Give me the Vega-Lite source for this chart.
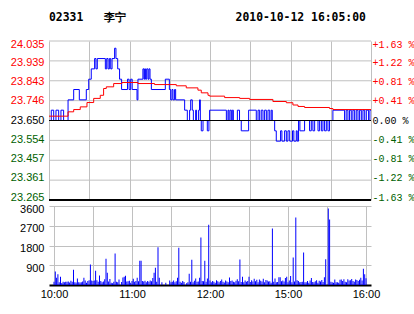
{
  "$schema": "https://vega.github.io/schema/vega-lite/v6.json",
  "background": "white",
  "padding": {"left": 5, "top": 11, "right": 0, "bottom": 0},
  "config": {
    "view": {"stroke": null},
    "axis": {"labelFont": "Liberation Sans", "labelFontSize": 11, "labelColor": "#000000", "ticks": false, "domain": false, "gridColor": "#c0c0c0", "gridOpacity": 1, "gridWidth": 1, "labelFlush": false, "labelOverlap": false}
  },
  "datasets": {
    "grid": [
      {"t":0,"lv":23.36125},{"t":240,"lv":23.36125},{"t":0,"lv":23.4575},{"t":240,"lv":23.4575},{"t":0,"lv":23.55375},{"t":240,"lv":23.55375},{"t":0,"lv":23.74625},{"t":240,"lv":23.74625},{"t":0,"lv":23.8425},{"t":240,"lv":23.8425},{"t":0,"lv":23.93875},{"t":240,"lv":23.93875},{"t":0,"lv":24.035},{"t":240,"lv":24.035}
    ],
    "base": [{"t":0,"b":23.265},{"t":240,"b":23.265}],
    "prev": [{"t":0,"c":23.65},{"t":240,"c":23.65}],
    "price": [
      {"t":0,"p":23.65},{"t":1.7,"p":23.70},{"t":3.5,"p":23.65},{"t":5.2,"p":23.70},{"t":7.2,"p":23.65},{"t":8.9,"p":23.70},{"t":10.9,"p":23.65},{"t":14.2,"p":23.75},{"t":18.4,"p":23.80},{"t":22.6,"p":23.75},{"t":27.8,"p":23.80},{"t":29.6,"p":23.85},{"t":31.5,"p":23.90},{"t":34,"p":23.95},{"t":35,"p":23.90},{"t":36,"p":23.95},{"t":42,"p":23.90},{"t":43,"p":23.95},{"t":44,"p":23.90},{"t":45,"p":23.95},{"t":46,"p":23.90},{"t":47,"p":23.95},{"t":48.9,"p":24.00},{"t":49.9,"p":23.95},{"t":51.2,"p":23.90},{"t":52.6,"p":23.85},{"t":54.1,"p":23.80},{"t":58.5,"p":23.85},{"t":59.7,"p":23.80},{"t":60.9,"p":23.85},{"t":62,"p":23.80},{"t":65.6,"p":23.75},{"t":66.3,"p":23.85},{"t":70,"p":23.90},{"t":70.8,"p":23.85},{"t":71.3,"p":23.90},{"t":72,"p":23.85},{"t":72.8,"p":23.90},{"t":73.8,"p":23.85},{"t":74.5,"p":23.90},{"t":75.3,"p":23.85},{"t":76.3,"p":23.80},{"t":86.7,"p":23.85},{"t":89.7,"p":23.80},{"t":90.7,"p":23.75},{"t":91.7,"p":23.80},{"t":92.4,"p":23.75},{"t":93.6,"p":23.80},{"t":94.4,"p":23.75},{"t":101.1,"p":23.70},{"t":103.1,"p":23.65},{"t":104.8,"p":23.70},{"t":105.6,"p":23.75},{"t":106.8,"p":23.70},{"t":107.6,"p":23.65},{"t":109.3,"p":23.70},{"t":110,"p":23.65},{"t":111.5,"p":23.70},{"t":112.2,"p":23.75},{"t":112.8,"p":23.65},{"t":113.5,"p":23.60},{"t":114.8,"p":23.65},{"t":118,"p":23.60},{"t":119.2,"p":23.65},{"t":119.7,"p":23.70},{"t":132.2,"p":23.65},{"t":133.4,"p":23.70},{"t":134.1,"p":23.65},{"t":134.9,"p":23.70},{"t":135.9,"p":23.65},{"t":136.6,"p":23.70},{"t":137.4,"p":23.65},{"t":140.4,"p":23.70},{"t":142,"p":23.65},{"t":143.3,"p":23.60},{"t":148.8,"p":23.70},{"t":154.5,"p":23.65},{"t":155.8,"p":23.70},{"t":157,"p":23.65},{"t":158.2,"p":23.70},{"t":159.5,"p":23.65},{"t":160.7,"p":23.70},{"t":162,"p":23.65},{"t":163.2,"p":23.70},{"t":164.5,"p":23.65},{"t":165.6,"p":23.70},{"t":166.4,"p":23.65},{"t":168.2,"p":23.60},{"t":169.4,"p":23.55},{"t":172.6,"p":23.60},{"t":173.6,"p":23.55},{"t":175.6,"p":23.60},{"t":176.9,"p":23.55},{"t":178.1,"p":23.60},{"t":179.4,"p":23.55},{"t":181.5,"p":23.60},{"t":182.5,"p":23.55},{"t":184.3,"p":23.60},{"t":185,"p":23.55},{"t":186,"p":23.65},{"t":187,"p":23.60},{"t":190.5,"p":23.65},{"t":194.2,"p":23.60},{"t":195.5,"p":23.65},{"t":196.7,"p":23.60},{"t":198,"p":23.65},{"t":200.5,"p":23.60},{"t":201.7,"p":23.65},{"t":203,"p":23.60},{"t":204.2,"p":23.65},{"t":205.4,"p":23.60},{"t":206.7,"p":23.65},{"t":207.9,"p":23.60},{"t":209.1,"p":23.65},{"t":211.6,"p":23.70},{"t":220.3,"p":23.65},{"t":221.5,"p":23.70},{"t":222.8,"p":23.65},{"t":224,"p":23.70},{"t":225.3,"p":23.65},{"t":226.5,"p":23.70},{"t":227.8,"p":23.65},{"t":229,"p":23.70},{"t":230.3,"p":23.65},{"t":231.5,"p":23.70},{"t":232.8,"p":23.65},{"t":234,"p":23.70},{"t":235.3,"p":23.65},{"t":236.5,"p":23.70},{"t":238.2,"p":23.65},{"t":239.2,"p":23.70},{"t":240,"p":23.70}
    ],
    "avg": [
      {"t":0,"a":23.671},{"t":14.2,"a":23.692},{"t":18.4,"a":23.703},{"t":23.3,"a":23.716},{"t":28.3,"a":23.737},{"t":33.3,"a":23.757},{"t":38.2,"a":23.772},{"t":40.7,"a":23.805},{"t":42.7,"a":23.813},{"t":48.2,"a":23.829},{"t":54.4,"a":23.834},{"t":66.3,"a":23.829},{"t":78.7,"a":23.824},{"t":94.9,"a":23.818},{"t":102.3,"a":23.808},{"t":111,"a":23.797},{"t":113.5,"a":23.784},{"t":118.5,"a":23.772},{"t":119.7,"a":23.768},{"t":130.9,"a":23.761},{"t":142.1,"a":23.757},{"t":149.5,"a":23.752},{"t":166.9,"a":23.742},{"t":176.9,"a":23.736},{"t":181.8,"a":23.725},{"t":185.6,"a":23.718},{"t":190.5,"a":23.713},{"t":209.1,"a":23.708},{"t":211.6,"a":23.703},{"t":240,"a":23.703}
    ],
    "vol": [
      {"t":0,"v":150},{"t":1,"v":610},{"t":2,"v":330},{"t":3,"v":490},{"t":4,"v":120},{"t":5,"v":380},{"t":6,"v":90},{"t":7,"v":150},{"t":8,"v":120},{"t":9,"v":150},{"t":10,"v":150},{"t":11,"v":160},{"t":12,"v":110},{"t":13,"v":190},{"t":14,"v":150},{"t":15,"v":700},{"t":16,"v":130},{"t":17,"v":110},{"t":18,"v":300},{"t":19,"v":120},{"t":20,"v":110},{"t":21,"v":120},{"t":22,"v":160},{"t":23,"v":330},{"t":24,"v":200},{"t":25,"v":100},{"t":26,"v":180},{"t":27,"v":220},{"t":28,"v":930},{"t":29,"v":210},{"t":30,"v":180},{"t":31,"v":200},{"t":32,"v":650},{"t":33,"v":220},{"t":34,"v":150},{"t":35,"v":430},{"t":36,"v":180},{"t":37,"v":130},{"t":38,"v":160},{"t":39,"v":260},{"t":40,"v":1200},{"t":41,"v":560},{"t":42,"v":160},{"t":43,"v":270},{"t":44,"v":100},{"t":45,"v":80},{"t":46,"v":150},{"t":47,"v":1430},{"t":48,"v":150},{"t":49,"v":120},{"t":50,"v":250},{"t":51,"v":0},{"t":52,"v":140},{"t":53,"v":340},{"t":54,"v":380},{"t":55,"v":420},{"t":56,"v":160},{"t":57,"v":170},{"t":58,"v":190},{"t":59,"v":100},{"t":60,"v":180},{"t":61,"v":280},{"t":62,"v":150},{"t":63,"v":180},{"t":64,"v":330},{"t":65,"v":170},{"t":66,"v":1110},{"t":67,"v":1110},{"t":68,"v":180},{"t":69,"v":160},{"t":70,"v":190},{"t":71,"v":120},{"t":72,"v":180},{"t":73,"v":150},{"t":74,"v":200},{"t":75,"v":170},{"t":76,"v":320},{"t":77,"v":560},{"t":78,"v":790},{"t":79,"v":150},{"t":80,"v":1720},{"t":81,"v":330},{"t":82,"v":0},{"t":83,"v":120},{"t":84,"v":0},{"t":85,"v":0},{"t":86,"v":100},{"t":87,"v":0},{"t":88,"v":0},{"t":89,"v":200},{"t":90,"v":120},{"t":91,"v":150},{"t":92,"v":200},{"t":93,"v":120},{"t":94,"v":170},{"t":95,"v":330},{"t":96,"v":1700},{"t":97,"v":150},{"t":98,"v":100},{"t":99,"v":180},{"t":100,"v":140},{"t":101,"v":0},{"t":102,"v":80},{"t":103,"v":120},{"t":104,"v":517},{"t":105,"v":150},{"t":106,"v":1155},{"t":107,"v":120},{"t":108,"v":190},{"t":109,"v":300},{"t":110,"v":150},{"t":111,"v":160},{"t":112,"v":330},{"t":113,"v":2160},{"t":114,"v":180},{"t":115,"v":170},{"t":116,"v":1110},{"t":117,"v":150},{"t":118,"v":300},{"t":119,"v":2742},{"t":120,"v":200},{"t":121,"v":130},{"t":122,"v":180},{"t":123,"v":150},{"t":124,"v":100},{"t":125,"v":220},{"t":126,"v":170},{"t":127,"v":120},{"t":128,"v":180},{"t":129,"v":250},{"t":130,"v":150},{"t":131,"v":110},{"t":132,"v":200},{"t":133,"v":160},{"t":134,"v":130},{"t":135,"v":340},{"t":136,"v":180},{"t":137,"v":210},{"t":138,"v":150},{"t":139,"v":120},{"t":140,"v":190},{"t":141,"v":260},{"t":142,"v":170},{"t":143,"v":1157},{"t":144,"v":140},{"t":145,"v":380},{"t":146,"v":120},{"t":147,"v":200},{"t":148,"v":150},{"t":149,"v":180},{"t":150,"v":380},{"t":151,"v":140},{"t":152,"v":220},{"t":153,"v":160},{"t":154,"v":280},{"t":155,"v":170},{"t":156,"v":240},{"t":157,"v":130},{"t":158,"v":250},{"t":159,"v":190},{"t":160,"v":160},{"t":161,"v":280},{"t":162,"v":120},{"t":163,"v":230},{"t":164,"v":200},{"t":165,"v":160},{"t":166,"v":170},{"t":167,"v":100},{"t":168,"v":2575},{"t":169,"v":150},{"t":170,"v":300},{"t":171,"v":120},{"t":172,"v":140},{"t":173,"v":350},{"t":174,"v":350},{"t":175,"v":170},{"t":176,"v":210},{"t":177,"v":160},{"t":178,"v":320},{"t":179,"v":380},{"t":180,"v":120},{"t":181,"v":200},{"t":182,"v":410},{"t":183,"v":130},{"t":184,"v":1250},{"t":185,"v":160},{"t":186,"v":3077},{"t":187,"v":220},{"t":188,"v":180},{"t":189,"v":120},{"t":190,"v":140},{"t":191,"v":150},{"t":192,"v":1478},{"t":193,"v":130},{"t":194,"v":120},{"t":195,"v":180},{"t":196,"v":100},{"t":197,"v":200},{"t":198,"v":320},{"t":199,"v":140},{"t":200,"v":130},{"t":201,"v":170},{"t":202,"v":220},{"t":203,"v":100},{"t":204,"v":190},{"t":205,"v":160},{"t":206,"v":230},{"t":207,"v":140},{"t":208,"v":350},{"t":209,"v":1173},{"t":210,"v":0},{"t":211,"v":3488},{"t":212,"v":2986},{"t":213,"v":150},{"t":214,"v":120},{"t":215,"v":100},{"t":216,"v":250},{"t":217,"v":120},{"t":218,"v":130},{"t":219,"v":100},{"t":220,"v":240},{"t":221,"v":250},{"t":222,"v":180},{"t":223,"v":260},{"t":224,"v":150},{"t":225,"v":130},{"t":226,"v":260},{"t":227,"v":200},{"t":228,"v":220},{"t":229,"v":270},{"t":230,"v":180},{"t":231,"v":150},{"t":232,"v":250},{"t":233,"v":230},{"t":234,"v":180},{"t":235,"v":240},{"t":236,"v":330},{"t":237,"v":200},{"t":238,"v":746},{"t":239,"v":490},{"t":240,"v":305}
    ]
  },
  "spacing": 6,
  "bounds": "flush",
  "vconcat": [
    {
      "width": 322,
      "height": 159,
      "title": {"text": "02331\u00a0\u00a0\u00a0李宁\u00a0\u00a0\u00a0\u00a0\u00a0\u00a0\u00a0\u00a0\u00a0\u00a0\u00a0\u00a0\u00a0\u00a0\u00a0\u00a02010-10-12\u00a016:05:00", "anchor": "start", "frame": "group", "font": "DejaVu Sans Mono", "fontSize": 11.4, "fontWeight": "bold", "color": "#000000", "offset": 15},
      "layer": [
        {
          "data": {"name": "grid"},
          "mark": {"type": "line", "color": "#c0c0c0", "strokeWidth": 1},
          "encoding": {
            "x": {"field": "t", "type": "quantitative", "scale": {"domain": [0, 240], "nice": false, "zero": false}, "axis": {"values": [0, 30, 60, 90, 120, 150, 180, 210, 240], "grid": true, "labels": false, "ticks": false, "domain": false, "title": null, "minExtent": 0, "maxExtent": 0}},
            "y": {"field": "lv", "type": "quantitative", "scale": {"domain": [23.265, 24.035], "nice": false, "zero": false}, "axis": {"orient": "left", "values": [23.265, 23.361, 23.457, 23.554, 23.65, 23.746, 23.843, 23.939, 24.035], "format": ".3f", "grid": false, "title": null, "labelPadding": 5, "minExtent": 44, "maxExtent": 44, "labelOffset": {"condition": [{"test": "datum.value > 24", "value": 3}, {"test": "datum.value > 23.9", "value": 2}, {"test": "datum.value > 23.8", "value": 1}, {"test": "datum.value < 23.3", "value": -3}, {"test": "datum.value < 23.4", "value": -3}, {"test": "datum.value < 23.5", "value": -2}, {"test": "datum.value < 23.6", "value": -1}], "value": 0}, "labelColor": {"condition": [{"test": "datum.value > 23.66", "value": "#ff0000"}, {"test": "datum.value < 23.64", "value": "#005f00"}], "value": "#000000"}}},
            "detail": {"field": "lv", "type": "quantitative"}
          }
        },
        {
          "data": {"name": "price"},
          "mark": {"type": "line", "interpolate": "step-after", "color": "#0000ff", "strokeWidth": 1},
          "encoding": {
            "x": {"field": "t", "type": "quantitative"},
            "y": {"field": "p", "type": "quantitative", "axis": null}
          }
        },
        {
          "data": {"name": "avg"},
          "mark": {"type": "line", "interpolate": "step-after", "color": "#ff0000", "strokeWidth": 1},
          "encoding": {
            "x": {"field": "t", "type": "quantitative"},
            "y": {"field": "a", "type": "quantitative", "axis": null}
          }
        },
        {
          "data": {"name": "base"},
          "mark": {"type": "line", "color": "#000000", "strokeWidth": 2},
          "encoding": {
            "x": {"field": "t", "type": "quantitative"},
            "y": {"field": "b", "type": "quantitative", "axis": null}
          }
        },
        {
          "data": {"name": "prev"},
          "mark": {"type": "line", "color": "#000000", "strokeWidth": 1},
          "encoding": {
            "x": {"field": "t", "type": "quantitative"},
            "y": {"field": "c", "type": "quantitative", "axis": {"orient": "right", "values": [23.265, 23.36125, 23.4575, 23.55375, 23.65, 23.74625, 23.8425, 23.93875, 24.035], "grid": false, "title": null, "labelPadding": 1, "labelFont": "Liberation Mono", "labelFontSize": 10, "labelOffset": {"condition": [{"test": "datum.value > 24", "value": 3}, {"test": "datum.value > 23.9", "value": 2}, {"test": "datum.value > 23.8", "value": 1}, {"test": "datum.value < 23.3", "value": -3}, {"test": "datum.value < 23.4", "value": -3}, {"test": "datum.value < 23.5", "value": -2}, {"test": "datum.value < 23.6", "value": -1}], "value": 0}, "labelExpr": "datum.value > 23.66 ? '+' + format((datum.value - 23.65) / 23.65 * 100, '.2f') + ' %' : datum.value < 23.64 ? '-' + format((23.65 - datum.value) / 23.65 * 100, '.2f') + ' %' : '\u00a00.00 %'", "labelColor": {"condition": [{"test": "datum.value > 23.66", "value": "#ff0000"}, {"test": "datum.value < 23.64", "value": "#005f00"}], "value": "#000000"}}}
          }
        }
      ],
      "resolve": {"scale": {"y": "shared"}, "axis": {"y": "independent"}}
    },
    {
      "width": 322,
      "height": 79,
      "data": {"name": "vol"},
      "mark": {"type": "bar", "width": 1, "color": "#0000ff"},
      "encoding": {
        "x": {"field": "t", "type": "quantitative", "scale": {"domain": [0, 240], "nice": false, "zero": false}, "axis": {"values": [0, 30, 60, 90, 120, 150, 180, 210, 240], "grid": true, "title": null, "domain": true, "domainColor": "#000000", "domainWidth": 2, "labelPadding": 3, "labelExpr": "datum.value == 0 ? '10:00' : datum.value == 60 ? '11:00' : datum.value == 120 ? '12:00' : datum.value == 180 ? '15:00' : datum.value == 240 ? '16:00' : ''"}},
        "y": {"field": "v", "type": "quantitative", "scale": {"domain": [0, 3600], "nice": false}, "axis": {"values": [900, 1800, 2700, 3600], "format": "d", "grid": true, "title": null, "labelPadding": 5, "labelOffset": 3, "minExtent": 44, "maxExtent": 44}}
      }
    }
  ]
}
